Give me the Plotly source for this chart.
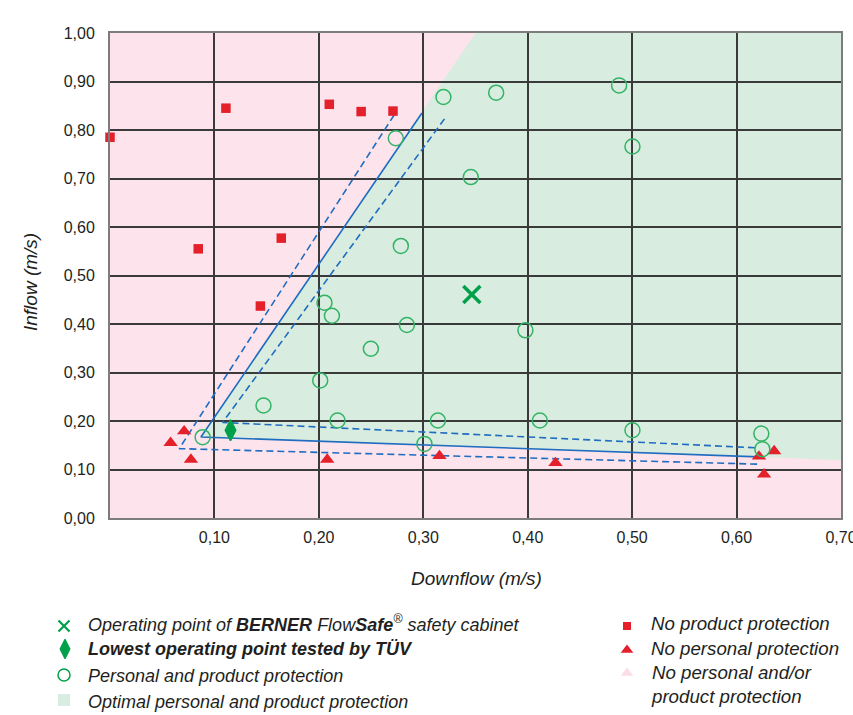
import plotly.graph_objects as go

# ---------------- data ----------------
# No product protection (red squares)
sq_x = [0.000, 0.111, 0.0845, 0.164, 0.144, 0.210, 0.2405, 0.271]
sq_y = [0.785, 0.845, 0.555, 0.577, 0.437, 0.853, 0.838, 0.839]

# No personal protection (red triangles)
tri_x = [0.058, 0.071, 0.0775, 0.208, 0.3155, 0.4266, 0.6215, 0.636, 0.6263]
tri_y = [0.155, 0.179, 0.1205, 0.1205, 0.128, 0.1135, 0.127, 0.138, 0.090]

# Personal and product protection (green open circles)
circ_x = [0.2737, 0.3193, 0.2785, 0.2054, 0.2125, 0.3698, 0.4875, 0.5003, 0.3455,
          0.2843, 0.2498, 0.2013, 0.147, 0.2179, 0.314, 0.3011, 0.0887,
          0.3978, 0.4116, 0.5003, 0.6237, 0.6247]
circ_y = [0.783, 0.868, 0.561, 0.444, 0.417, 0.877, 0.892, 0.766, 0.703,
          0.398, 0.349, 0.2836, 0.232, 0.201, 0.201, 0.1528, 0.1666,
          0.387, 0.201, 0.181, 0.174, 0.142]

# Operating point of BERNER FlowSafe
op_x = [0.3465]
op_y = [0.461]

# Lowest operating point tested by TÜV
low_x = [0.1154]
low_y = [0.181]

# Limit curve (solid) and tolerance band (dashed)
limit_x = [0.2987, 0.0871, 0.6209]
limit_y = [0.835, 0.167, 0.126]
band_outer_x = [0.2721, 0.0663, 0.621]
band_outer_y = [0.831, 0.143, 0.111]
band_inner_x = [0.3203, 0.1078, 0.621]
band_inner_y = [0.823, 0.197, 0.1445]

# Optimal protection zone (green area)
zone_x = [0.0871, 0.350, 0.700, 0.700, 0.6209]
zone_y = [0.167, 1.000, 1.000, 0.119, 0.126]

x_ticks = [0.1, 0.2, 0.3, 0.4, 0.5, 0.6, 0.7]
x_ticktext = ["0,10", "0,20", "0,30", "0,40", "0,50", "0,60", "0,70"]
y_ticks = [0.0, 0.1, 0.2, 0.3, 0.4, 0.5, 0.6, 0.7, 0.8, 0.9, 1.0]
y_ticktext = ["0,00", "0,10", "0,20", "0,30", "0,40", "0,50", "0,60", "0,70", "0,80", "0,90", "1,00"]

legend_left = [
    "<i>Operating point of <b>BERNER</b> Flow<b>Safe</b><sup>®</sup> safety cabinet</i>",
    "<b><i>Lowest operating point tested by TÜV</i></b>",
    "<i>Personal and product protection</i>",
    "<i>Optimal personal and product protection</i>",
]
legend_right = [
    "<i>No product protection</i>",
    "<i>No personal protection</i>",
    "<i>No personal and/or<br>product protection</i>",
]

# ---------------- style ----------------
W, H = 853, 715
PL, PR, PT, PB = 110, 841, 33, 518
PINK = "#FCE3EC"
GREEN_BG = "#D8EDDF"
RED = "#E4202B"
CIRC_GREEN = "#33B366"
DARK_GREEN = "#00A04A"
BLUE = "#1F6CC0"
TXT = "#231F20"
FONT = "Liberation Sans, Arial, sans-serif"

fig = go.Figure()

# pink background and green zone, below the grid
fig.add_shape(type="rect", xref="x domain", yref="y domain", x0=0, x1=1, y0=0, y1=1,
              layer="below", fillcolor=PINK, line=dict(width=0))
path = "M " + " L ".join(f"{x},{y}" for x, y in zip(zone_x, zone_y)) + " Z"
fig.add_shape(type="path", path=path, xref="x", yref="y", layer="below",
              fillcolor=GREEN_BG, line=dict(width=0))

dash = "7px,4px"
fig.add_trace(go.Scatter(x=band_outer_x, y=band_outer_y, mode="lines",
                         line=dict(color=BLUE, width=1.6, dash=dash), hoverinfo="skip"))
fig.add_trace(go.Scatter(x=band_inner_x, y=band_inner_y, mode="lines",
                         line=dict(color=BLUE, width=1.6, dash=dash), hoverinfo="skip"))
fig.add_trace(go.Scatter(x=limit_x, y=limit_y, mode="lines",
                         line=dict(color=BLUE, width=1.6), hoverinfo="skip"))

fig.add_trace(go.Scatter(x=sq_x, y=sq_y, mode="markers", cliponaxis=False,
                         marker=dict(symbol="square", size=9.5, color=RED)))
fig.add_trace(go.Scatter(x=tri_x, y=tri_y, mode="markers", cliponaxis=False,
                         marker=dict(symbol="triangle-up", size=12.5, color=RED)))
fig.add_trace(go.Scatter(x=circ_x, y=circ_y, mode="markers",
                         marker=dict(symbol="circle-open", size=15, color=CIRC_GREEN,
                                     line=dict(width=1.5, color=CIRC_GREEN))))
fig.add_trace(go.Scatter(x=low_x, y=low_y, mode="markers",
                         marker=dict(symbol="diamond-tall", size=15, color=DARK_GREEN,
                                     line=dict(width=1.5, color=DARK_GREEN))))
fig.add_trace(go.Scatter(x=op_x, y=op_y, mode="markers",
                         marker=dict(symbol="x-thin-open", size=17, color=DARK_GREEN,
                                     line=dict(width=3.5, color=DARK_GREEN))))

# ---------------- legend (overlay axes in pixel coordinates) ----------------
lg_left_sym_x = 64
lg_left_rows = [623, 649, 676, 702]
lg_right_sym_x = 627
lg_right_rows = [623, 648, 671, 696]

fig.add_trace(go.Scatter(x=[lg_left_sym_x], y=[lg_left_rows[0] + 3], xaxis="x2", yaxis="y2", mode="markers",
                         marker=dict(symbol="x-thin-open", size=11, color=DARK_GREEN,
                                     line=dict(width=2.2, color=DARK_GREEN))))
fig.add_trace(go.Scatter(x=[lg_left_sym_x + 1], y=[lg_left_rows[1]], xaxis="x2", yaxis="y2", mode="markers",
                         marker=dict(symbol="diamond-tall", size=14, color=DARK_GREEN,
                                     line=dict(width=1.2, color=DARK_GREEN))))
fig.add_trace(go.Scatter(x=[lg_left_sym_x], y=[lg_left_rows[2] - 1], xaxis="x2", yaxis="y2", mode="markers",
                         marker=dict(symbol="circle-open", size=12, color=DARK_GREEN,
                                     line=dict(width=1.5, color=DARK_GREEN))))
fig.add_trace(go.Scatter(x=[lg_left_sym_x], y=[lg_left_rows[3] - 2], xaxis="x2", yaxis="y2", mode="markers",
                         marker=dict(symbol="square", size=12, color=GREEN_BG)))
fig.add_trace(go.Scatter(x=[lg_right_sym_x], y=[lg_right_rows[0] + 3], xaxis="x2", yaxis="y2", mode="markers",
                         marker=dict(symbol="square", size=8, color=RED)))
fig.add_trace(go.Scatter(x=[lg_right_sym_x], y=[lg_right_rows[1] + 2], xaxis="x2", yaxis="y2", mode="markers",
                         marker=dict(symbol="triangle-up", size=11, color=RED)))
fig.add_trace(go.Scatter(x=[lg_right_sym_x], y=[lg_right_rows[2] + 2], xaxis="x2", yaxis="y2", mode="markers",
                         marker=dict(symbol="triangle-up", size=11, color="#FBDDE7")))

annotations = []
for txt, py in zip(legend_left, lg_left_rows):
    annotations.append(dict(text=txt, x=86 / W, y=1 - py / H, xref="paper", yref="paper",
                            xanchor="left", yanchor="middle", showarrow=False,
                            font=dict(size=18, color=TXT, family=FONT)))
for i, (txt, py) in enumerate(zip(legend_right, lg_right_rows)):
    annotations.append(dict(text=txt, x=649 / W, y=1 - (py - 11) / H if i == 2 else 1 - py / H,
                            xref="paper", yref="paper", align="left",
                            xanchor="left", yanchor="top" if i == 2 else "middle", showarrow=False,
                            font=dict(size=18.7, color=TXT, family=FONT)))
annotations.append(dict(text="<i>Downflow (m/s)</i>", x=477 / W, y=1 - 578 / H, xref="paper", yref="paper",
                        xanchor="center", yanchor="middle", showarrow=False,
                        font=dict(size=19, color=TXT, family=FONT)))
annotations.append(dict(text="<i>Inflow (m/s)</i>", x=30 / W, y=1 - 282 / H, xref="paper", yref="paper",
                        xanchor="center", yanchor="middle", showarrow=False, textangle=-90,
                        font=dict(size=19, color=TXT, family=FONT)))

fig.update_layout(
    width=W, height=H,
    margin=dict(l=0, r=0, t=0, b=0, pad=0, autoexpand=False),
    paper_bgcolor="white",
    plot_bgcolor="rgba(0,0,0,0)",
    showlegend=False,
    annotations=annotations,
    font=dict(family=FONT, color=TXT),
    xaxis=dict(domain=[PL / W, PR / W], range=[0, 0.7], tickvals=x_ticks, ticktext=x_ticktext,
               showgrid=True, gridcolor="#3a3a3a", gridwidth=1.5, zeroline=False,
               showline=True, linecolor="#7c7c7c", linewidth=2, mirror=True,
               ticks="", ticklabelstandoff=4, ticklabeloverflow="allow",
               tickfont=dict(size=16, color=TXT), fixedrange=True),
    yaxis=dict(domain=[1 - PB / H, 1 - PT / H], range=[0, 1.0], tickvals=y_ticks, ticktext=y_ticktext,
               showgrid=True, gridcolor="#3a3a3a", gridwidth=1.5, zeroline=False,
               showline=True, linecolor="#7c7c7c", linewidth=2, mirror=True,
               ticks="", ticklabelstandoff=10, ticklabeloverflow="allow",
               tickfont=dict(size=16, color=TXT), fixedrange=True),
    xaxis2=dict(domain=[0, 1], range=[0, W], visible=False, anchor="y2", fixedrange=True),
    yaxis2=dict(domain=[0, 1], range=[H, 0], visible=False, anchor="x2", fixedrange=True),
)

fig.write_html("out.html", config={"displayModeBar": False},
               post_script="document.body.style.margin='0px';document.body.style.overflow='hidden';")
